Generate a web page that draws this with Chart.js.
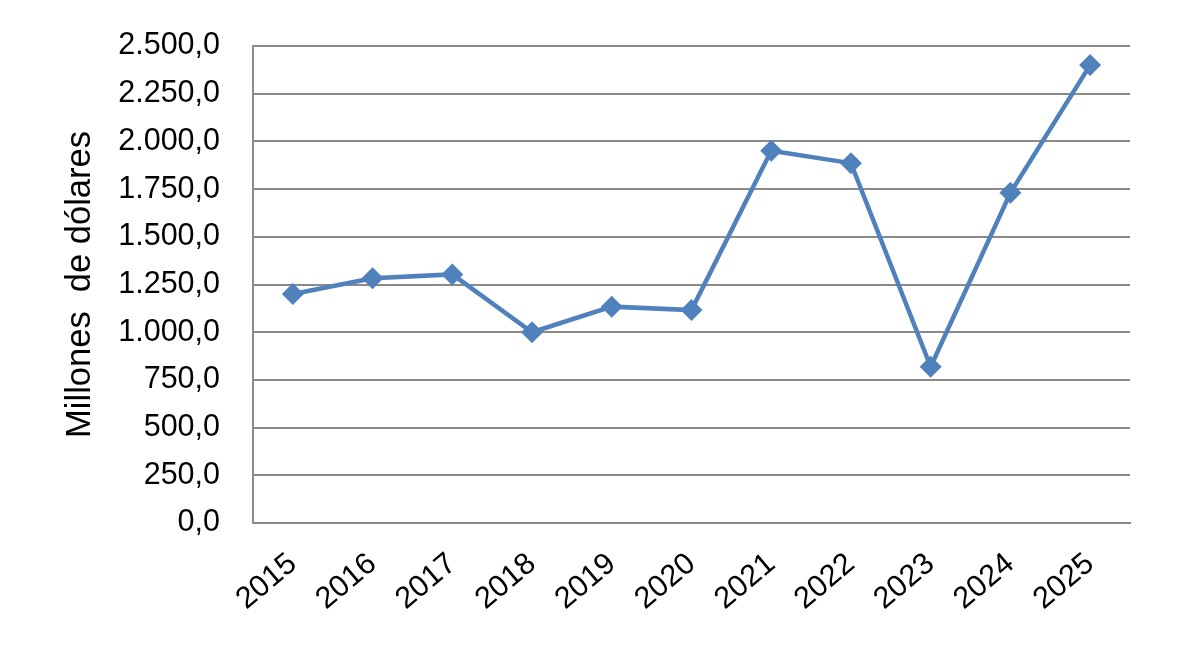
<!DOCTYPE html>
<html>
<head>
<meta charset="utf-8">
<script src="https://cdn.jsdelivr.net/npm/chart.js@4"></script>
<style>
  html, body { margin: 0; padding: 0; background: #fff; }
  #wrap { width: 1200px; height: 646px; }
</style>
</head>
<body>
<div id="wrap"><canvas id="chart" width="1200" height="646"></canvas></div>
<script>
const years = ['2015', '2016', '2017', '2018', '2019', '2020', '2021', '2022', '2023', '2024', '2025'];
const millones = [1200, 1283, 1303, 1000, 1134, 1116, 1951, 1886, 819, 1731, 2400];
const yMin = 0;
const yMax = 2500;
const yStep = 250;
const yTitle = 'Millones  de dólares';

// 1250 -> "1.250,0"
function fmt(v) {
  const parts = v.toFixed(1).split('.');
  const ent = parts[0].replace(/\B(?=(\d{3})+(?!\d))/g, '.');
  return ent + ',' + parts[1];
}

const gridGray = '#8a8a8a';
const font = { family: '"Liberation Sans", Arial, sans-serif', size: 30.5 };

new Chart(document.getElementById('chart').getContext('2d'), {
  type: 'line',
  data: {
    labels: years,
    datasets: [{
      label: yTitle,
      data: millones,
      borderColor: '#4f81bd',
      backgroundColor: '#4f81bd',
      borderWidth: 4.5,
      tension: 0,
      pointStyle: 'rectRot',
      pointRadius: 11,
      pointHoverRadius: 11,
      pointBorderWidth: 0
    }]
  },
  options: {
    responsive: false,
    animation: false,
    devicePixelRatio: 1,
    layout: { padding: { left: 0, right: 70, top: 46, bottom: 0 } },
    plugins: {
      legend: { display: false },
      tooltip: { enabled: false }
    },
    scales: {
      x: {
        offset: true,
        grid: { display: false, drawTicks: false },
        border: { display: true, color: gridGray, width: 2 },
        ticks: {
          color: '#000',
          font: font,
          maxRotation: 40,
          minRotation: 40,
          padding: 23,
          autoSkip: false
        },
        afterFit: (s) => { s.height = 123; }
      },
      y: {
        min: yMin,
        max: yMax,
        grid: { color: gridGray, lineWidth: 2, drawTicks: false },
        border: { display: true, color: gridGray, width: 2 },
        ticks: {
          stepSize: yStep,
          color: '#000',
          font: font,
          padding: 33,
          callback: (v) => fmt(v)
        },
        title: {
          display: true,
          text: yTitle,
          color: '#000',
          font: { family: '"Liberation Sans", Arial, sans-serif', size: 34.5 },
          padding: { top: 60, bottom: 0 }
        },
        afterFit: (s) => {
          s.width = 253;
          // keep the big tick padding from pushing the plot area down
          s.paddingTop = 0;
          s.paddingBottom = 0;
        }
      }
    }
  }
});
</script>
</body>
</html>
